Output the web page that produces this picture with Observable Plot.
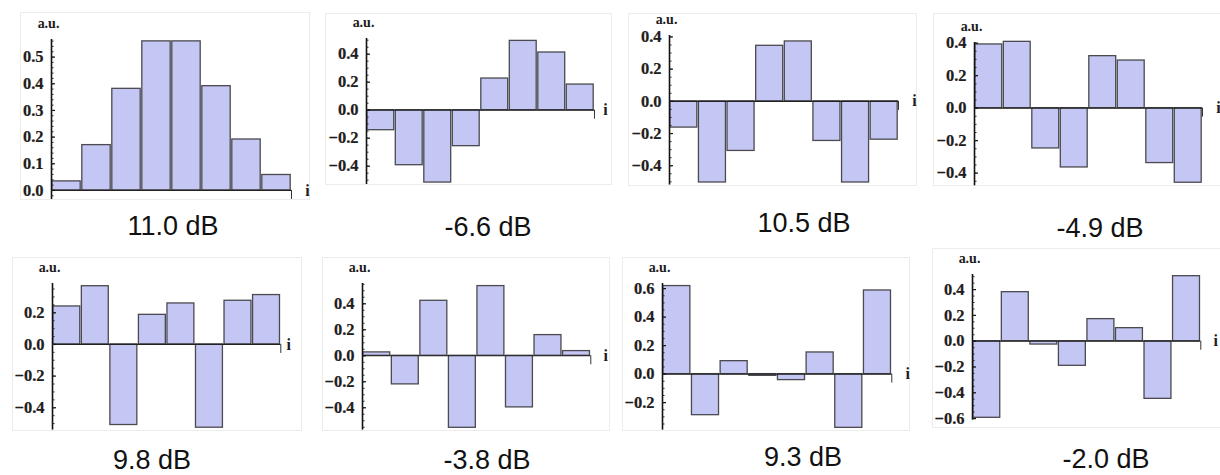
<!DOCTYPE html>
<html>
<head>
<meta charset="utf-8">
<script src="https://cdn.jsdelivr.net/npm/d3@7"></script>
<script src="https://cdn.jsdelivr.net/npm/@observablehq/plot@0.6"></script>
<style>
  html, body { margin: 0; padding: 0; background: #fff; }
  #wrap { position: relative; width: 1220px; height: 475px; overflow: hidden; background: #fff; }
  .frame { position: absolute; border: 1px solid #ececec; box-sizing: border-box; }
  .panel { position: absolute; }
  .cap { position: absolute; font-family: "Liberation Sans", Arial, sans-serif; font-size: 27px; color: #111;
         transform: translate(-50%, -50%); white-space: nowrap; line-height: 1; }
</style>
</head>
<body>
<div id="wrap"></div>
<script>
// ---------------- data ----------------
const indices = [1, 2, 3, 4, 5, 6, 7, 8];
const captions = ["11.0 dB", "-6.6 dB", "10.5 dB", "-4.9 dB", "9.8 dB", "-3.8 dB", "9.3 dB", "-2.0 dB"];
const mode1 = [0.034, 0.170, 0.381, 0.559, 0.559, 0.391, 0.191, 0.058];
const mode2 = [-0.143, -0.393, -0.517, -0.257, 0.226, 0.495, 0.412, 0.183];
const mode3 = [-0.163, -0.504, -0.308, 0.345, 0.372, -0.246, -0.504, -0.238];
const mode4 = [0.392, 0.408, -0.248, -0.365, 0.320, 0.293, -0.338, -0.459];
const mode5 = [0.240, 0.368, -0.509, 0.187, 0.259, -0.526, 0.276, 0.312];
const mode6 = [0.026, -0.220, 0.423, -0.554, 0.536, -0.397, 0.159, 0.036];
const mode7 = [0.618, -0.288, 0.091, -0.012, -0.042, 0.152, -0.377, 0.587];
const mode8 = [-0.594, 0.380, -0.026, -0.191, 0.171, 0.101, -0.447, 0.504];
const modes = [mode1, mode2, mode3, mode4, mode5, mode6, mode7, mode8];

const ticks1 = [0.0, 0.1, 0.2, 0.3, 0.4, 0.5];
const ticks2 = [-0.4, -0.2, 0.0, 0.2, 0.4];
const ticks3 = [-0.4, -0.2, 0.0, 0.2, 0.4];
const ticks4 = [-0.4, -0.2, 0.0, 0.2, 0.4];
const ticks5 = [-0.4, -0.2, 0.0, 0.2];
const ticks6 = [-0.4, -0.2, 0.0, 0.2, 0.4];
const ticks7 = [-0.2, 0.0, 0.2, 0.4, 0.6];
const ticks8 = [-0.6, -0.4, -0.2, 0.0, 0.2, 0.4];
const tickSets = [ticks1, ticks2, ticks3, ticks4, ticks5, ticks6, ticks7, ticks8];
const minorSteps = [0.02, 0.05, 0.05, 0.05, 0.05, 0.05, 0.05, 0.05];
const yLabel = "a.u.";
const xLabel = "i";

// ---------------- layout (page pixels) ----------------
const layout = [
  {ax: 51,    xEnd: 291,  y0: 190,   k: 266.7, yTop: 0.566, yBot: -0.034, iDx: 16},
  {ax: 366,   xEnd: 594,  y0: 110,   k: 140,   yTop: 0.512, yBot: -0.531, iDx: 11},
  {ax: 669,   xEnd: 898,  y0: 101,   k: 161,   yTop: 0.409, yBot: -0.520, iDx: 16},
  {ax: 974,   xEnd: 1202, y0: 107.3, k: 162.5, yTop: 0.404, yBot: -0.478, iDx: 16},
  {ax: 51.7,  xEnd: 280,  y0: 344.3, k: 158.3, yTop: 0.385, yBot: -0.541, iDx: 8},
  {ax: 361.7, xEnd: 590,  y0: 355.7, k: 130,   yTop: 0.556, yBot: -0.572, iDx: 15},
  {ax: 661.7, xEnd: 891,  y0: 374,   k: 142.5, yTop: 0.636, yBot: -0.393, iDx: 16},
  {ax: 971.7, xEnd: 1200, y0: 341,   k: 129,   yTop: 0.517, yBot: -0.612, iDx: 15}
];
const frames = [
  [20, 12, 310, 200], [325, 13, 612, 185], [628, 13, 917, 186], [933, 13, 1222, 186],
  [12, 257, 302, 431], [322, 257, 610, 431], [622, 257, 910, 431], [932, 248, 1222, 428]
];
const capPos = [[173, 226], [488, 227], [804, 223], [1100, 228], [152, 460], [487, 460], [803, 457], [1106, 459]];

const wrap = document.getElementById("wrap");
const fmt = d3.format(".1f");
const mL = 60, mR = 22, mT = 26, mB = 14;
const serif = "'Liberation Serif', 'DejaVu Serif', serif";
const ink = "#221c1c";

frames.forEach(([l, t, r, b]) => {
  const f = document.createElement("div");
  f.className = "frame";
  f.style.left = l + "px"; f.style.top = t + "px";
  f.style.width = (r - l) + "px"; f.style.height = (b - t) + "px";
  wrap.appendChild(f);
});

modes.forEach((vals, p) => {
  const L = layout[p];
  const data = indices.map((i, j) => ({i, v: vals[j]}));
  const innerW = L.xEnd - L.ax;
  const innerH = (L.yTop - L.yBot) * L.k;
  const step = minorSteps[p];
  const minor = d3.range(Math.ceil(L.yBot / step - 1e-9), Math.floor(L.yTop / step + 1e-9) + 1)
    .map(n => +(n * step).toFixed(4));

  const chart = Plot.plot({
    width: mL + innerW + mR,
    height: mT + innerH + mB,
    marginLeft: mL, marginRight: mR, marginTop: mT, marginBottom: mB,
    x: {domain: [0, 8], axis: null},
    y: {domain: [L.yBot, L.yTop], axis: null},
    style: {fontFamily: serif, fontWeight: "bold", fontSize: "16px", color: ink, background: "transparent", overflow: "visible"},
    marks: [
      Plot.rectY(data, {
        x1: d => d.i - 1, x2: d => d.i, y1: d => 0, y2: d => d.v,
        fill: "#c4c6f3", stroke: "#4a4a50", strokeWidth: 1.3,
        insetLeft: 0.8, insetRight: 0.8
      }),
      Plot.ruleY([0], {x1: 0, x2: 8, stroke: "#222", strokeWidth: 1.2}),
      Plot.ruleX([8], {y1: d => 0, y2: d => 0, insetBottom: -9, stroke: "#333", strokeWidth: 1}),
      Plot.ruleX([0], {y1: L.yBot, y2: L.yTop, stroke: "#111", strokeWidth: 1.6}),
      Plot.axisY(tickSets[p], {anchor: "left", tickSize: -4, fill: "none", label: null, stroke: "#111", strokeWidth: 1.2}),
      Plot.axisY(minor, {anchor: "left", tickSize: -2.5, fill: "none", label: null, stroke: "#222", strokeWidth: 1}),
      Plot.text(tickSets[p], {x: d => 0, y: d => d, text: d => fmt(d), textAnchor: "end", dx: -8,
        fill: ink, fontSize: 16.5, fontFamily: serif, fontWeight: "bold", stroke: ink, strokeWidth: 0.2}),
      Plot.text([yLabel], {x: d => 0, y: d => L.yTop, dy: -16, dx: -3, fontSize: 14, fontFamily: serif, fontWeight: "bold",
        fill: ink, textAnchor: "middle"}),
      Plot.text([xLabel], {x: d => 8, y: d => 0, dx: L.iDx, fontSize: 16, fontFamily: serif, fontWeight: "bold",
        fill: ink, textAnchor: "middle"})
    ]
  });
  chart.classList.add("panel");
  chart.style.left = (L.ax - mL) + "px";
  chart.style.top = (L.y0 - L.yTop * L.k - mT) + "px";
  wrap.appendChild(chart);

  const cap = document.createElement("div");
  cap.className = "cap";
  cap.textContent = captions[p];
  cap.style.left = capPos[p][0] + "px";
  cap.style.top = capPos[p][1] + "px";
  wrap.appendChild(cap);
});
</script>
</body>
</html>
